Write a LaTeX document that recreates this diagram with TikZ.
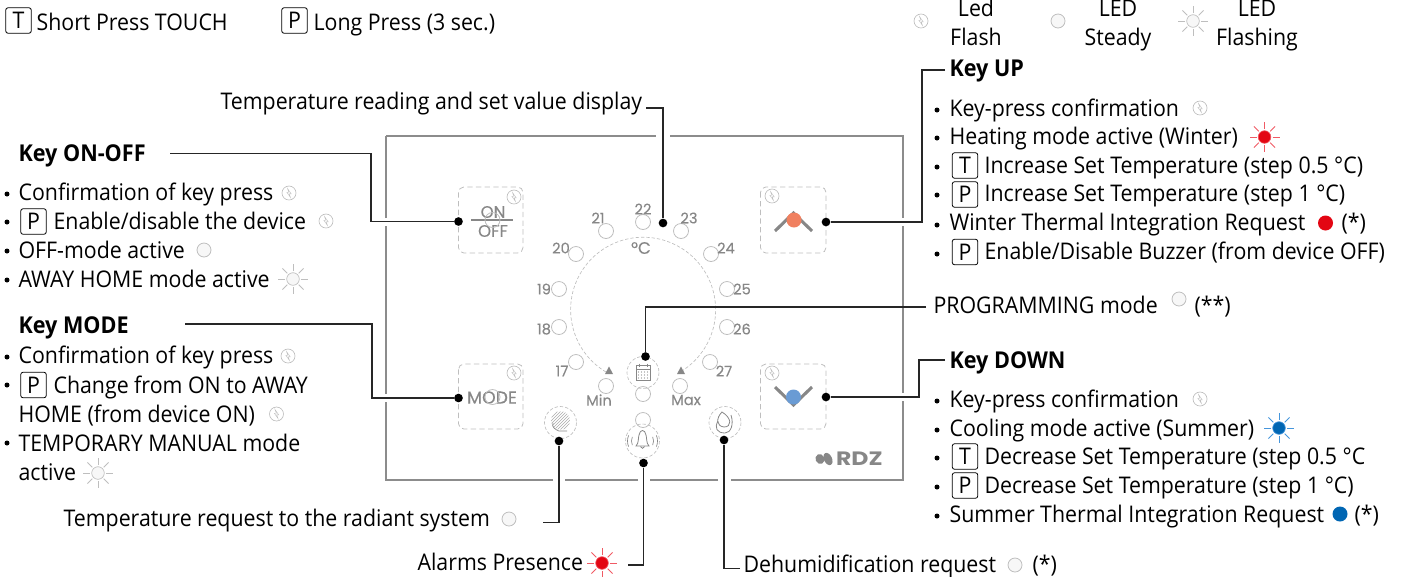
\documentclass[tikz,border=0pt]{standalone}
\usepackage{fontspec}
\setmainfont[FakeStretch=0.93]{Open Sans}
\newfontfamily\dialfont[FakeBold=0.3]{Poppins}
\newfontfamily\logofont[FakeStretch=1.22]{Poppins}
\definecolor{ledgrey}{RGB}{190,190,190}
\definecolor{devgrey}{RGB}{135,135,135}
\definecolor{ledred}{RGB}{227,6,19}
\definecolor{rayred}{RGB}{240,90,100}
\definecolor{ledblue}{RGB}{0,102,179}
\definecolor{rayblue}{RGB}{70,150,220}
\tikzset{
  every picture/.style={line width=0.75pt},
  txt/.style={anchor=base west,inner sep=0pt,xshift=-0.7pt,yshift=-0.6pt,font=\fontsize{17.2}{18}\selectfont},
  txtb/.style={txt,font=\fontsize{17.4}{18}\selectfont\bfseries},
  txtc/.style={anchor=base,inner sep=0pt,yshift=-0.6pt,font=\fontsize{17.2}{18}\selectfont},
  keybox/.style={draw,rounded corners=1.5pt,line width=0.6pt,minimum width=19pt,minimum height=19pt,inner sep=0pt,font=\fontsize{17.2}{18}\selectfont},
  pin/.style={circle,fill=black,inner sep=0pt,minimum size=6.5pt},
  conn/.style={line width=1pt,color=black!85},
  frameline/.style={line width=1.1pt,color=black!45},
  softkey/.style={draw=ledgrey,dashed,dash pattern={on 4pt off 2.5pt},rounded corners=4pt,line width=0.6pt},
  ring/.style={draw=ledgrey,dash pattern={on 2.5pt off 1.5pt},line width=0.5pt},
  led/.style={draw=ledgrey,line width=0.6pt},
  dial/.style={inner sep=0pt,text=devgrey,font=\dialfont\fontsize{11}{12}\selectfont},
  pics/flashled/.style={code={
    \draw[led,line width=0.5pt] (0,0) circle (7);
    \draw[led,line width=0.3pt] (1.5,-4.5) -- (-2.2,0.8) -- (-0.2,0.8) -- (-1.5,4.5) -- (2.2,-0.8) -- (0.2,-0.8) -- cycle;
  }},
  pics/steadyled/.style={code={
    \draw[led,fill=black!3] (0,0) circle (7);
  }},
  pics/sunled/.style 2 args={code={
    \filldraw[draw=#2,fill=#1,line width=0.5pt] (0,0) circle (6.3);
    \foreach \a in {0,45,...,315}
      \draw[#2,line width=0.7pt] (\a:8) -- (\a:15);
  }},
}

\begin{document}
\begin{tikzpicture}[x=0.75pt,y=0.75pt,yscale=-1,xscale=1]
  \useasboundingbox (0,0) rectangle (1402,576);

  % device frame
  \draw[frameline] (386,136) -- (656,136) (670,136) -- (903,136) -- (903,218) (903,226) -- (903,393) (903,401) -- (903,480)
    -- (731,480) (718,480) -- (650,480) (638,480) -- (565,480) (553,480) -- (386,480) -- (386,402) (386,394) -- (386,226);
  \draw[frameline] (386,218) -- (386,136);

  % soft keys
  \draw[softkey] (458.5,187) rectangle (523,253);
  \draw[softkey] (458.5,364) rectangle (523,429);
  \draw[softkey] (760.5,187) rectangle (826,253);
  \draw[softkey] (760.5,364) rectangle (826,429);
  \pic at (514,197) {flashled};
  \pic at (514,373) {flashled};
  \pic at (772,196) {flashled};
  \pic at (772,373) {flashled};

  \node[dial,font=\dialfont\fontsize{12.5}{12}\selectfont] (onlabel) at (493,212) {ON};
  \node[dial,font=\dialfont\fontsize{12.5}{12}\selectfont] (offlabel) at (493,231) {OFF};
  \draw[devgrey,line width=0.8pt] (471,220) -- (513,220);
  \draw[led] (492.5,220) circle (7.5);
  \node[dial,font=\dialfont\fontsize{13}{12}\selectfont] (modelabel) at (492,397.5) {MODE};
  \draw[led] (492.5,397) circle (7.5);

  \draw[devgrey,line width=2.3pt] (775,231) -- (793.5,213) -- (812,231);
  \fill[color={rgb,255:red,240;green,128;blue,96}] (794,220) circle (7.5);
  \draw[devgrey,line width=2.3pt] (775,387) -- (793.5,405) -- (812,387);
  \fill[color={rgb,255:red,106;green,155;blue,212}] (793.5,397) circle (7.5);

  % dial
  \draw[ring] (606,372) arc (120.8:419.2:72.5);
  \foreach \x/\y/\lx/\ly/\v in {643/222/643/209/22,606/231/598/218/21,681/231/689/218/23,576/254/561/248/20,711/254/726/248/24,
      559/289/544/289/19,727/289/742/289/25,559/327/544/329/18,727/327/742/329/26,576/362/562/371/17,710/362/724/371/27,
      606/386/599/400/Min,680/386/686/400/Max} {
    \draw[led] (\x,\y) circle (7.5);
    \node[dial] (temp\v) at (\lx,\ly) {\v};
  }
  \node[dial,font=\dialfont\fontsize{12.5}{12}\selectfont] (unitlabel) at (641,248) {°C};
  \fill[devgrey] (605,374) -- (609,366.5) -- (613,374) -- cycle;
  \fill[devgrey] (677,374) -- (681,366.5) -- (685,374) -- cycle;
  \draw[led] (643,394) circle (7.5);
  \draw[led] (643,420) circle (7.5);

  % calendar
  \draw[ring] (643,372.5) circle (16);
  \draw[devgrey,line width=0.6pt] (636,365.5) rectangle (650,380);
  \draw[devgrey,line width=0.6pt] (636,369) -- (650,369) (639,363.5) -- (639,367) (647,363.5) -- (647,367);
  \foreach \x in {638.5,641.5,644.5,647.5} \foreach \y in {372,375,378}
    \fill[devgrey] (\x,\y) circle (0.7);

  % bell
  \draw[ring] (642.5,441) circle (17);
  \draw[devgrey,line width=0.6pt] (636,446) .. controls (639,443) and (638,438) .. (639,435) .. controls (640,429) and (645,429) .. (646,435) .. controls (647,438) and (646,443) .. (649,446) -- cycle;
  \draw[devgrey,line width=0.6pt] (640.5,446.5) .. controls (641,449) and (644,449) .. (644.5,446.5);
  \foreach \r in {11,15} {
    \draw[devgrey,line width=0.5pt] (642.5,441) ++(158:\r) arc (158:202:\r);
    \draw[devgrey,line width=0.5pt] (642.5,441) ++(22:\r) arc (22:-22:\r);
  }

  % radiant system
  \draw[ring] (560.5,422.5) circle (16);
  \begin{scope}
    \clip (560.5,420.5) circle (9.5);
    \foreach \d in {-12,-9,...,12}
      \draw[devgrey!70,line width=0.4pt] (560.5+\d-9,429.5) -- (560.5+\d+9,411.5);
  \end{scope}
  \draw[devgrey,line width=0.5pt] (553,423) .. controls (551,427) and (556,430) .. (559,431) -- (567,431);

  % dehumidification
  \draw[ring] (725,422.5) circle (16);
  \draw[devgrey,line width=0.6pt] (722,412) .. controls (716,418) and (716,426) .. (724,427) .. controls (732,427) and (732,418) .. (722,412) -- cycle;
  \draw[devgrey,line width=0.6pt] (718,421) .. controls (714,428) and (717,433) .. (725,433) .. controls (731,433) and (734,424) .. (731,415);

  % logo
  \fill[devgrey,rotate around={-25:(820,459)}] (820,459) ellipse (4.5 and 5);
  \fill[devgrey,rotate around={-25:(828,459)}] (828,459) ellipse (4 and 6.5);
  \node[dial,anchor=base west,font=\logofont\bfseries\fontsize{14.5}{15}\selectfont] (rdzlogo) at (835.5,465) {RDZ};

  % legend
  \node[keybox] (keyT) at (18.5,20.5) {T};
  \node[txt] (shortpress) at (37,30) {Short Press TOUCH};
  \node[keybox] (keyP) at (294.5,20.5) {P};
  \node[txt] (longpress) at (314,30) {Long Press (3 sec.)};
  \pic at (921,21) {flashled};
  \node[txtc] (legA) at (976,16) {Led};
  \node[txtc] (legB) at (976,45) {Flash};
  \pic at (1058,21) {steadyled};
  \node[txtc] (legC) at (1118,16) {LED};
  \node[txtc] (legD) at (1118,45) {Steady};
  \pic at (1193,21) {sunled={black!3}{ledgrey}};
  \node[txtc] (legE) at (1257,16) {LED};
  \node[txtc] (legF) at (1257,45) {Flashing};

  % pins
  \node[pin] (pinonoff) at (458.5,221.5) {};
  \node[pin] (pinmode) at (458.5,398) {};
  \node[pin] (pinup) at (826,222) {};
  \node[pin] (pindown) at (826,397) {};
  \node[pin] (pindisplay) at (663,223) {};
  \node[pin] (pinprog) at (645.5,356.5) {};
  \node[pin] (pinradiant) at (559,441) {};
  \node[pin] (pinalarm) at (643.5,463) {};
  \node[pin] (pindehum) at (724,440) {};

  % key on-off
  \node[txtb] (onoff) at (19,161) {Key ON-OFF};
  \coordinate (onoffend) at (170,153.5);
  \draw[conn] (onoffend) -- (371,153.5) |- (pinonoff);
  \node[txt] (onoffa) at (19,200) {Confirmation of key press};
  \pic at (289,193) {flashled};
  \node[keybox] (onoffkey) at (33.5,221.5) {P};
  \node[txt] (onoffb) at (54,229) {Enable/disable the device};
  \pic at (326,221) {flashled};
  \node[txt] (onoffc) at (19,258) {OFF-mode active};
  \pic at (204,250) {steadyled};
  \node[txt] (onoffd) at (19,287) {AWAY HOME mode active};
  \pic at (293,279) {sunled={black!3}{ledgrey}};

  % key mode
  \node[txtb] (mode) at (19,333) {Key MODE};
  \coordinate (modeend) at (185,324);
  \draw[conn] (modeend) -- (372,324) |- (pinmode);
  \node[txt] (modea) at (19,363) {Confirmation of key press};
  \pic at (288,356) {flashled};
  \node[keybox] (modekey) at (33.5,385) {P};
  \node[txt] (modeb) at (54,393) {Change from ON to AWAY};
  \node[txt] (modec) at (19,422) {HOME (from device ON)};
  \pic at (276.5,414) {flashled};
  \node[txt] (moded) at (19,451) {TEMPORARY MANUAL mode};
  \node[txt] (modee) at (19,480) {active};
  \pic at (98,473) {sunled={black!3}{ledgrey}};
  \foreach \x/\y in {7/194,7/222,7/251,7/280,7/357,7/385,7/443}
    \fill (\x,\y) circle (2.5);

  % bottom labels
  \node[txt] (display) at (221,109) {Temperature reading and set value display};
  \coordinate (displayend) at (646,108);
  \draw[conn] (displayend) -| (pindisplay);
  \node[txt] (radiant) at (64,526) {Temperature request to the radiant system};
  \pic at (509,519) {steadyled};
  \coordinate (radiantend) at (543,522.5);
  \draw[conn] (radiantend) -| (pinradiant);
  \node[txt] (alarm) at (418,570) {Alarms Presence};
  \pic at (602,563) {sunled={ledred}{rayred}};
  \coordinate (alarmend) at (628,565);
  \draw[conn] (alarmend) -| (pinalarm);
  \node[txt] (dehum) at (744,572) {Dehumidification request};
  \pic at (1015,565) {steadyled};
  \node[txt] (dehumstar) at (1033,572) {(*)};
  \coordinate (dehumend) at (740,568.5);
  \draw[conn] (pindehum) |- (dehumend);
  \node[txt] (prog) at (934,313) {PROGRAMMING mode};
  \pic at (1179,299) {steadyled};
  \node[txt] (progstar) at (1195,313) {(**)};
  \coordinate (progend) at (926,307);
  \draw[conn] (progend) -| (pinprog);

  % key up
  \node[txtb] (up) at (950,76) {Key UP};
  \coordinate (upend) at (945,70);
  \draw[conn] (upend) -- (922,70) |- (pinup);
  \node[txt] (upa) at (950,115.5) {Key-press confirmation};
  \pic at (1200,108) {flashled};
  \node[txt] (upb) at (950,144) {Heating mode active (Winter)};
  \pic at (1264.5,137) {sunled={ledred}{rayred}};
  \node[keybox] (upkeyt) at (965,165.5) {T};
  \node[txt] (upc) at (985,172.5) {Increase Set Temperature (step 0.5 °C)};
  \node[keybox] (upkeyp) at (965,194.5) {P};
  \node[txt] (upd) at (985,201) {Increase Set Temperature (step 1 °C)};
  \node[txt] (upe) at (950,230) {Winter Thermal Integration Request};
  \fill[ledred] (1325.5,223) circle (7.5);
  \node[txt] (upstar) at (1342,230) {(*)};
  \node[keybox] (upkeyq) at (965,252) {P};
  \node[txt] (upf) at (985,259) {Enable/Disable Buzzer (from device OFF)};

  % key down
  \node[txtb] (down) at (950,368) {Key DOWN};
  \coordinate (downend) at (945,360);
  \draw[conn] (downend) -- (919,360) |- (pindown);
  \node[txt] (downa) at (950,406.5) {Key-press confirmation};
  \pic at (1200,399) {flashled};
  \node[txt] (downb) at (950,436) {Cooling mode active (Summer)};
  \pic at (1279,428) {sunled={ledblue}{rayblue}};
  \node[keybox] (downkeyt) at (965,456.5) {T};
  \node[txt] (downc) at (985,464) {Decrease Set Temperature (step 0.5 °C};
  \node[keybox] (downkeyp) at (965,485.5) {P};
  \node[txt] (downd) at (985,493) {Decrease Set Temperature (step 1 °C)};
  \node[txt] (downe) at (950,522) {Summer Thermal Integration Request};
  \fill[ledblue] (1340,514) circle (7.5);
  \node[txt] (downstar) at (1355,522) {(*)};
  \foreach \y in {110,138,167,195,225,254,401,430,458,487,516}
    \fill (937,\y) circle (2.5);
\end{tikzpicture}
\end{document}
